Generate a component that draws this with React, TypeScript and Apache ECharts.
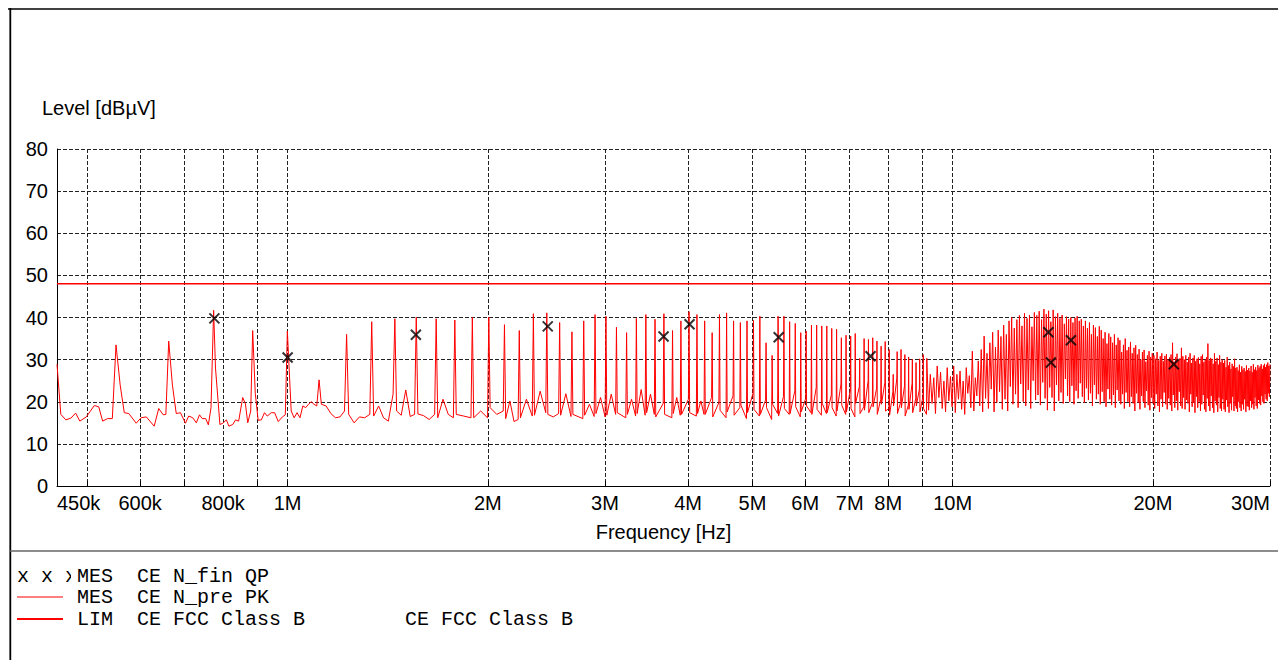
import React, { useEffect, useRef } from "react";
import * as echarts from "echarts";

// Harmonic spacing of the PK spikes, read from the spike positions (MHz)
const FUND_MHZ = 0.1115;

// Low band, read point by point (MHz, dBµV)
const lowFreq = [
  0.45, 0.456, 0.464, 0.472, 0.48, 0.487, 0.498, 0.512, 0.52, 0.527,
  0.536, 0.545, 0.552, 0.56, 0.568, 0.577, 0.592, 0.602, 0.613, 0.63,
  0.64, 0.65, 0.656, 0.6625, 0.671, 0.68, 0.69, 0.702, 0.71, 0.72,
  0.729, 0.737, 0.744, 0.753, 0.76, 0.767, 0.774, 0.779, 0.791, 0.799,
  0.809, 0.816, 0.827, 0.835, 0.844, 0.856, 0.864, 0.871, 0.88, 0.886,
  0.894, 0.903, 0.913, 0.923, 0.932, 0.945, 0.956, 0.968, 0.982, 0.992,
  0.999,
];
const lowLevel = [
  28.9, 17.0, 15.7, 16.1, 17.3, 15.4, 16.4, 19.1, 18.8, 15.4,
  16.0, 16.0, 33.5, 24.0, 17.4, 17.2, 14.9, 16.2, 16.4, 14.2,
  18.4, 16.9, 17.0, 34.4, 24.0, 17.2, 17.4, 14.9, 16.6, 16.2,
  15.0, 16.9, 16.0, 16.0, 14.5, 18.6, 41.7, 28.0, 14.6, 14.9,
  15.7, 14.2, 14.6, 15.7, 15.4, 21.0, 19.5, 15.0, 17.8, 36.9,
  22.0, 15.6, 15.7, 17.4, 16.6, 17.4, 17.4, 15.3, 16.4, 16.9,
  36.8,
];

// Spike tops for harmonics n = 10 .. 81
const midFirstN = 10;
const midPeaks = [
  25.2, 36.0, 39.0, 39.7, 40.1, 39.7, 39.4, 40.1, 40.1, 38.3,
  36.9, 40.9, 41.1, 38.8, 36.6, 39.2, 40.7, 40.3, 37.7, 36.4,
  39.8, 40.7, 39.6, 40.9, 36.9, 39.2, 41.4, 40.7, 39.2, 36.4,
  40.7, 41.1, 39.2, 38.8, 39.2, 39.3, 40.3, 34.0, 31.0, 40.3,
  40.3, 39.0, 38.6, 36.4, 36.8, 38.2, 38.2, 38.0, 38.0, 37.4,
  37.2, 35.2, 35.8, 35.6, 36.2, 30.3, 35.0, 34.8, 35.2, 34.4,
  33.2, 34.3, 32.4, 26.5, 31.9, 32.4, 31.2, 30.6, 30.1, 29.3,
  30.2, 31.2,
];

// Noise floor between harmonic n and n+1, n = 9 .. 81
const gapFirstN = 9;
const midGaps: number[][] = [
  [17.8, 16.2, 17.4, 16.2, 19.0, 18.6, 19.4, 20.0, 19.4, 19.0],
  [19.4, 19.0, 17.2, 16.2, 16.4, 17.8],
  [17.0, 15.0, 16.4, 16.2, 17.0],
  [16.6, 19.0, 16.2, 15.4, 21.8],
  [17.8, 16.8, 22.8, 16.5, 17.0],
  [17.1, 16.7, 15.8, 17.0],
  [16.2, 20.6, 17.0, 16.2],
  [17.0, 16.6, 16.2],
  [16.2, 17.8, 16.2],
  [18.6, 17.0, 17.8],
  [16.0, 20.2, 15.3, 15.8],
  [16.2, 20.6, 16.6],
  [16.8, 22.5, 17.4],
  [17.0, 16.4, 17.2],
  [16.8, 21.9, 16.5],
  [17.0, 16.0],
  [16.8, 19.4, 16.5],
  [17.2, 21.0, 16.4],
  [16.8, 21.8, 17.0],
  [17.4, 16.2],
  [17.0, 20.6, 16.6],
  [17.2, 22.9, 16.8],
  [17.4, 21.8, 17.0],
  [16.4, 19.6],
  [17.0, 16.2],
  [17.2, 21.0, 16.8],
  [17.0, 20.6],
  [17.4, 16.6],
  [17.2, 20.2, 17.0],
  [17.0, 21.0],
  [16.4, 19.8],
  [18.0, 16.2],
  [17.6, 21.4],
  [16.8, 18.6],
  [19.2, 16.0],
  [17.4, 22.0],
  [18.2, 16.6],
  [17.0, 20.4],
  [18.6, 15.8],
  [19.4, 17.2],
  [16.6, 21.2],
  [18.4, 17.0],
  [17.2, 22.6],
  [18.8, 16.4],
  [17.6, 20.8],
  [19.0, 17.4],
  [17.0, 23.4],
  [18.2, 16.8],
  [19.6, 17.2],
  [17.4, 21.6],
  [18.6, 16.6],
  [17.8, 24.2],
  [19.2, 17.0],
  [17.6, 22.8],
  [18.4, 16.4],
  [19.6, 23.6],
  [17.2, 18.8],
  [18.0, 25.0],
  [17.4, 19.8],
  [18.8, 23.2],
  [17.0, 20.6],
  [19.4, 24.6],
  [17.8, 18.4],
  [16.8, 22.4],
  [19.0, 25.6],
  [17.2, 20.0],
  [18.6, 23.8],
  [16.6, 19.2],
  [18.2, 24.4],
  [17.4, 20.8],
  [19.0, 23.0],
  [17.6, 21.2],
  [18.4, 17.0],
];

// Dense band: spike tops for harmonics n = 82 .. 269
const denseFirstN = 82;
const densePeaks = [
  30.3, 26.5, 25.7, 28.5, 27.0, 24.9, 28.1, 26.0,
  28.5, 26.5, 27.3, 24.9, 28.1, 26.2, 32.0, 25.7, 29.7, 32.4,
  35.6, 31.5, 34.0, 36.5, 33.0, 37.0, 35.5, 38.2, 36.0, 39.2,
  40.0, 37.5, 39.5, 40.5, 38.0, 41.0, 39.8, 40.6, 37.8, 41.2,
  40.5, 41.5, 39.5, 42.0, 40.8, 41.6, 39.0, 41.8, 40.2, 41.0,
  39.8, 40.6, 38.5, 40.2, 39.6, 40.0, 38.8, 39.9, 40.3, 39.2,
  39.6, 38.0, 39.2, 37.5, 38.8, 36.0, 38.2, 37.6, 35.5, 37.9,
  37.0, 35.0, 36.5, 33.8, 36.2, 35.4, 34.0, 36.0, 33.5, 35.2,
  34.6, 31.8, 33.5, 35.0, 32.2, 33.0, 34.2, 31.5, 32.8, 33.4,
  31.2, 32.5, 30.0, 31.8, 32.3, 29.5, 31.0, 32.0, 30.6, 31.5,
  31.0, 30.2, 31.8, 29.8, 30.8, 31.5, 29.6, 30.9, 31.3, 30.0,
  30.5, 31.2, 34.0, 29.5, 30.6, 31.4, 29.8, 30.3, 32.8, 30.8,
  30.0, 31.0, 29.4, 30.6, 31.5, 29.2, 30.4, 31.0, 29.6, 30.2,
  30.5, 29.0, 30.8, 31.2, 29.4, 30.0, 30.6, 33.8, 29.8, 30.4,
  30.2, 29.0, 31.5, 29.6, 30.4, 28.8, 31.0, 29.4, 30.0, 29.2,
  29.8, 28.2, 30.6, 28.6, 29.4, 27.8, 29.0, 28.4, 30.2, 28.0,
  28.2, 27.4, 28.8, 27.0, 28.4, 27.6, 28.0, 27.2, 28.6, 27.5,
  28.0, 27.3, 28.5, 27.0, 28.9, 27.6, 28.2, 27.4, 28.7, 27.9,
  28.4, 28.9, 27.8, 28.6, 29.0, 28.2, 28.8, 29.3, 28.5, 28.9,
];
// Dense band: troughs after harmonics n = 82 .. 268
const denseTroughs = [
  18.0, 19.6, 17.2, 21.0, 18.4, 17.6, 20.2, 18.8,
  17.4, 20.6, 18.2, 17.0, 22.0, 18.6, 17.8, 21.4, 19.0, 17.6,
  20.8, 18.4, 23.0, 17.6, 19.8, 22.4, 18.2, 20.6, 17.8, 23.6,
  19.4, 21.8, 18.6, 24.2, 20.0, 19.0, 22.8, 18.4, 25.0, 20.4,
  21.6, 19.2, 24.6, 20.8, 18.0, 23.4, 21.0, 17.8, 24.0, 20.2,
  22.2, 19.6, 25.4, 21.4, 20.0, 23.8, 19.4, 22.6, 20.8, 24.4,
  21.2, 19.8, 23.2, 20.4, 22.0, 19.0, 24.0, 20.6, 21.8, 19.4,
  22.4, 20.0, 18.8, 23.0, 20.6, 19.2, 21.6, 18.6, 22.8, 20.2,
  19.4, 21.8, 18.4, 22.2, 20.0, 18.8, 21.2, 19.6, 17.8, 22.0,
  19.8, 18.2, 21.4, 20.0, 18.6, 22.6, 19.2, 18.0, 21.0, 19.6,
  18.4, 21.8, 19.0, 17.6, 20.6, 18.8, 22.2, 19.4, 18.2, 20.8,
  19.2, 17.8, 21.6, 18.6, 20.2, 18.0, 22.4, 19.0, 18.4, 21.0,
  18.2, 20.4, 19.6, 17.6, 21.8, 18.8, 19.8, 17.4, 21.2, 18.6,
  20.0, 17.8, 19.4, 21.6, 18.2, 17.6, 20.8, 19.0, 17.8, 21.4,
  18.6, 17.4, 20.2, 19.2, 17.6, 21.0, 18.4, 17.8, 20.6, 18.2,
  17.6, 20.4, 18.8, 17.4, 19.6, 18.0, 21.2, 17.8, 19.0, 18.4,
  17.6, 20.0, 18.6, 17.8, 19.4, 18.2, 20.6, 17.6, 19.0, 18.8,
  18.0, 20.2, 18.6, 19.4, 18.2, 21.0, 19.0, 18.4, 20.4, 19.6,
  19.2, 21.4, 20.0, 19.6, 21.8, 20.6, 20.2, 22.0, 21.2,
];

// Limit line (MHz, dBµV)
const limitFreq = [0.45, 30];
const limitLevel = [48, 48];

// QP final measurement points (MHz, dBµV)
const qpFreq = [0.776, 1.0, 1.559, 2.461, 3.675, 4.021, 5.475, 7.524, 13.93, 14.05, 15.06, 21.5];
const qpLevel = [39.8, 30.5, 35.9, 37.9, 35.5, 38.4, 35.3, 30.8, 36.5, 29.3, 34.6, 28.9];

// Axis
const xMinMHz = 0.45;
const xMaxMHz = 30;
const gridFreq = [0.5, 0.6, 0.7, 0.8, 0.9, 1, 2, 3, 4, 5, 6, 7, 8, 9, 10, 20, 30];
const tickLabelFreq = [0.45, 0.6, 0.8, 1, 2, 3, 4, 5, 6, 7, 8, 10, 20, 30];
const tickLabels = ["450k", "600k", "800k", "1M", "2M", "3M", "4M", "5M", "6M", "7M", "8M", "10M", "20M", "30M"];

const SANS = "Liberation Sans";
const MONO = "Liberation Mono";

function buildTrace(): [number, number][] {
  const pts: [number, number][] = [];
  for (let i = 0; i < lowFreq.length; i++) pts.push([lowFreq[i], lowLevel[i]]);
  const pushGap = (n: number, vals: number[]) => {
    const fn = n * FUND_MHZ;
    const k = vals.length;
    vals.forEach((v, i) => {
      const frac = k === 1 ? 0.5 : 0.08 + (0.84 * i) / (k - 1);
      pts.push([fn + FUND_MHZ * frac, v]);
    });
  };
  pushGap(gapFirstN, midGaps[0]);
  for (let i = 0; i < midPeaks.length; i++) {
    const n = midFirstN + i;
    pts.push([n * FUND_MHZ, midPeaks[i]]);
    pushGap(n, midGaps[n - gapFirstN]);
  }
  for (let i = 0; i < densePeaks.length; i++) {
    const n = denseFirstN + i;
    pts.push([n * FUND_MHZ, densePeaks[i]]);
    if (i < denseTroughs.length) pts.push([(n + 0.5) * FUND_MHZ, denseTroughs[i]]);
  }
  return pts.map(([f, v]) => [Math.log10(f), v] as [number, number]);
}

export default function App() {
  const ref = useRef<HTMLDivElement>(null);

  useEffect(() => {
    if (!ref.current) return;
    const chart = echarts.init(ref.current, undefined, { renderer: "svg" });
    const labelLog = tickLabelFreq.map((f) => Math.log10(f));
    const fmt = (val: number) => {
      let best = 0;
      let bd = Infinity;
      labelLog.forEach((l, i) => {
        const d = Math.abs(l - val);
        if (d < bd) {
          bd = d;
          best = i;
        }
      });
      return tickLabels[best];
    };

    const option: any = {
      animation: false,
      backgroundColor: "#ffffff",
      grid: { left: 49, right: 16, top: 141, bottom: 174, outerBoundsMode: "none", containLabel: false },
      xAxis: {
        type: "value",
        min: Math.log10(xMinMHz),
        max: Math.log10(xMaxMHz),
        name: "Frequency [Hz]",
        nameLocation: "middle",
        nameGap: 36,
        nameTextStyle: { color: "#000", fontSize: 20, fontFamily: SANS },
        axisLine: { show: true, onZero: false, lineStyle: { color: "#000", width: 1 } },
        axisTick: {
          show: true,
          inside: true,
          length: 5,
          customValues: gridFreq.map((f) => Math.log10(f)),
          lineStyle: { color: "#000", width: 1 },
        },
        axisLabel: {
          customValues: labelLog,
          formatter: fmt,
          color: "#000",
          fontSize: 20,
          fontFamily: SANS,
          margin: 7,
          alignMinLabel: "left",
          alignMaxLabel: "right",
          showMinLabel: true,
          showMaxLabel: true,
          hideOverlap: false,
        },
        splitLine: { show: true, lineStyle: { color: "#222", width: 1, type: [4, 2] } },
      },
      yAxis: {
        type: "value",
        min: 0,
        max: 80,
        interval: 10,
        axisLine: { show: true, onZero: false, lineStyle: { color: "#000", width: 1 } },
        axisTick: { show: false },
        axisLabel: { color: "#000", fontSize: 20, fontFamily: SANS, margin: 9 },
        splitLine: { show: true, lineStyle: { color: "#222", width: 1, type: [4, 2] } },
      },
      series: [
        {
          name: "MES CE N_pre PK",
          type: "line",
          data: buildTrace(),
          showSymbol: false,
          symbol: "none",
          lineStyle: { color: "#ff0000", width: 1 },
          z: 3,
        },
        {
          name: "LIM CE FCC Class B",
          type: "line",
          data: limitFreq.map((f, i) => [Math.log10(f), limitLevel[i]]),
          showSymbol: false,
          symbol: "none",
          lineStyle: { color: "#ff0000", width: 1.5 },
          z: 4,
        },
        {
          name: "MES CE N_fin QP",
          type: "scatter",
          data: qpFreq.map((f, i) => [Math.log10(f), qpLevel[i]]),
          symbol: "path://M0,0L10,10M10,0L0,10",
          symbolSize: [10, 10],
          itemStyle: { color: "rgba(0,0,0,0)", borderColor: "#000", borderWidth: 2 },
          z: 5,
        },
      ],
      graphic: [
        { type: "line", shape: { x1: 0, y1: 1, x2: 1278, y2: 1 }, style: { stroke: "#000", lineWidth: 1.6 } },
        { type: "line", shape: { x1: 2.3, y1: 0, x2: 2.3, y2: 652 }, style: { stroke: "#000", lineWidth: 1.8 } },
        { type: "line", shape: { x1: 2, y1: 543, x2: 1278, y2: 543 }, style: { stroke: "#666", lineWidth: 1.5 } },
        {
          type: "text",
          x: 34,
          y: 100,
          style: { text: "Level [dBµV]", fill: "#000", font: `20px "${SANS}"`, verticalAlign: "middle" },
        },
        {
          type: "text",
          x: 9,
          y: 568,
          style: { text: "x x x", fill: "#000", font: `20px "${MONO}"`, verticalAlign: "middle" },
        },
        {
          type: "text",
          x: 63,
          y: 568,
          z: 10,
          style: {
            text: "MES  CE N_fin QP",
            fill: "#000",
            font: `20px "${MONO}"`,
            verticalAlign: "middle",
            backgroundColor: "#ffffff",
            padding: [0, 0, 0, 6],
          },
        },
        { type: "line", shape: { x1: 9, y1: 589, x2: 55, y2: 589 }, style: { stroke: "#ff0000", lineWidth: 1 } },
        {
          type: "text",
          x: 69,
          y: 589,
          style: { text: "MES  CE N_pre PK", fill: "#000", font: `20px "${MONO}"`, verticalAlign: "middle" },
        },
        { type: "line", shape: { x1: 9, y1: 611, x2: 55, y2: 611 }, style: { stroke: "#ff0000", lineWidth: 1.8 } },
        {
          type: "text",
          x: 69,
          y: 611,
          style: { text: "LIM  CE FCC Class B", fill: "#000", font: `20px "${MONO}"`, verticalAlign: "middle" },
        },
        {
          type: "text",
          x: 397,
          y: 611,
          style: { text: "CE FCC Class B", fill: "#000", font: `20px "${MONO}"`, verticalAlign: "middle" },
        },
      ],
    };
    chart.setOption(option);
    return () => chart.dispose();
  }, []);

  return <div ref={ref} style={{ width: 1278, height: 652 }} />;
}
